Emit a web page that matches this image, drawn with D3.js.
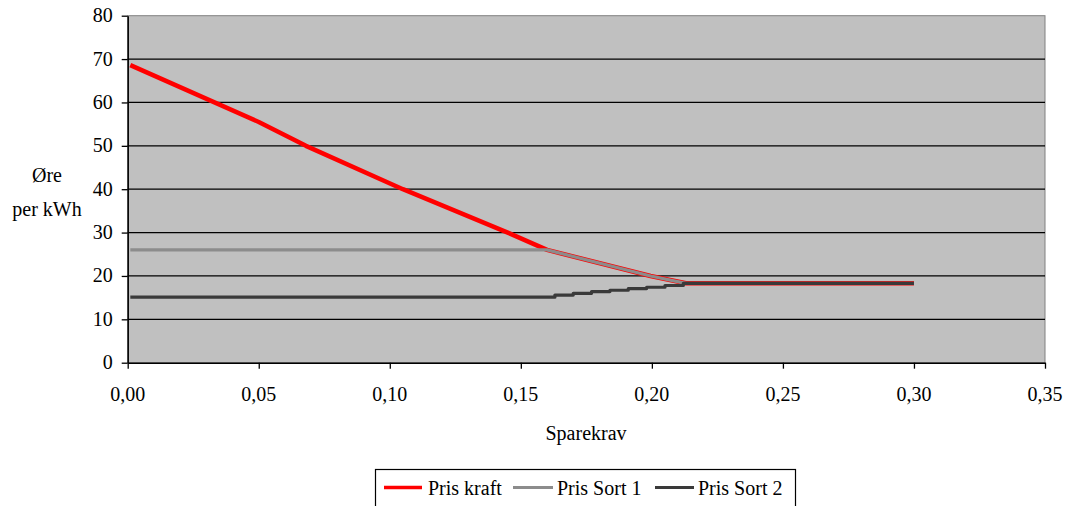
<!DOCTYPE html>
<html>
<head>
<meta charset="utf-8">
<script src="https://cdn.jsdelivr.net/npm/d3@7"></script>
</head>
<body style="margin:0">
<svg id="chart" width="1068" height="506" style="display:block"></svg>
<script>
// Sparekrav (x) and price in øre per kWh (y) for each series
const prisKraftX = [0.001, 0.050, 0.068, 0.105, 0.145, 0.160, 0.1995, 0.213, 0.300];
const prisKraftY = [68.6, 55.5, 50.0, 40.0, 30.0, 26.0, 20.0, 18.3, 18.3];

const prisSort1X = [0.001, 0.160, 0.1995, 0.213, 0.300];
const prisSort1Y = [26.0, 26.0, 20.0, 18.3, 18.3];

const prisSort2X = [0.001, 0.163, 0.170, 0.177, 0.184, 0.191, 0.198, 0.205, 0.212, 0.300];
const prisSort2Y = [15.1, 15.6, 16.0, 16.4, 16.7, 17.1, 17.4, 17.8, 18.3, 18.3];

const xTicks = [0, 0.05, 0.10, 0.15, 0.20, 0.25, 0.30, 0.35];
const yTicks = [0, 10, 20, 30, 40, 50, 60, 70, 80];

const seriesNames = ["Pris kraft", "Pris Sort 1", "Pris Sort 2"];
const seriesColors = ["#ff0000", "#8c8c8c", "#3a3a3a"];

const fontName = "Liberation Serif";
// text is set at 24px and scaled down to about 20px on screen
const textScale = 20 / 24;

const svg = d3.select("#chart");
const plotLeft = 127.7, plotRight = 1045, plotTop = 15.7, plotBottom = 362.7;

const x = d3.scaleLinear().domain([0, 0.35]).range([plotLeft, plotRight]);
const y = d3.scaleLinear().domain([0, 80]).range([plotBottom, plotTop]);

function label(xp, yp, txt, anchor) {
  return svg.append("text")
    .attr("x", 0).attr("y", 0)
    .attr("transform", `translate(${xp},${yp}) scale(${textScale})`)
    .attr("text-anchor", anchor || "middle")
    .attr("fill", "#000")
    .style("font-family", fontName).style("font-size", "24px")
    .text(txt);
}

// plot area
svg.append("rect")
  .attr("x", plotLeft).attr("y", plotTop)
  .attr("width", plotRight - plotLeft).attr("height", plotBottom - plotTop)
  .attr("fill", "#c0c0c0")
  .attr("stroke", "#808080").attr("stroke-width", 1);

// horizontal gridlines
svg.append("g").selectAll("line")
  .data(yTicks.filter(d => d > 0 && d < 80))
  .join("line")
  .attr("x1", plotLeft).attr("x2", plotRight)
  .attr("y1", d => y(d)).attr("y2", d => y(d))
  .attr("stroke", "#000").attr("stroke-width", 1.3);

// axes: lines and ticks from d3, labels drawn below with the serif font
const fmt = d3.format(".2f");
const xFormat = d => fmt(d).replace(".", ",");
const xAxis = d3.axisBottom(x).tickValues(xTicks).tickSize(6).tickSizeOuter(0).tickFormat("");
const yAxis = d3.axisLeft(y).tickValues(yTicks).tickSize(6).tickSizeOuter(0).tickFormat("");

const gx = svg.append("g").attr("transform", `translate(0,${plotBottom})`).call(xAxis);
gx.select(".domain").attr("stroke", "#000").attr("stroke-width", 1.5);
gx.selectAll(".tick line").attr("stroke", "#000").attr("stroke-width", 1.3);
gx.selectAll(".tick text").remove();

const gy = svg.append("g").attr("transform", `translate(${plotLeft},0)`).call(yAxis);
gy.select(".domain").attr("stroke", "#000").attr("stroke-width", 1.5);
gy.selectAll(".tick line").attr("stroke", "#000").attr("stroke-width", 1.3);
gy.selectAll(".tick text").remove();

xTicks.forEach(t => label(x(t), plotBottom + 38, xFormat(t), "middle"));
yTicks.forEach(t => label(plotLeft - 15, y(t) + 6.5, String(t), "end"));

// series lines
const series = [
  { xs: prisKraftX, ys: prisKraftY, curve: d3.curveLinear, width: 4.5 },
  { xs: prisSort1X, ys: prisSort1Y, curve: d3.curveLinear, width: 3.2 },
  { xs: prisSort2X, ys: prisSort2Y, curve: d3.curveStepAfter, width: 3.2 }
];

series.forEach((s, i) => {
  const pts = s.xs.map((v, j) => [v, s.ys[j]]);
  const line = d3.line().x(d => x(d[0])).y(d => y(d[1])).curve(s.curve);
  svg.append("path")
    .datum(pts)
    .attr("d", line)
    .attr("fill", "none")
    .attr("stroke", seriesColors[i])
    .attr("stroke-width", s.width)
    .attr("stroke-linejoin", "round");
});

// axis titles
label(47, 182, "Øre");
label(47, 216, "per kWh");
label(586, 440, "Sparekrav");

// legend
const legend = svg.append("g");
legend.append("rect")
  .attr("x", 375.5).attr("y", 469.5).attr("width", 420).attr("height", 45)
  .attr("fill", "#fff").attr("stroke", "#000").attr("stroke-width", 1.2);

const legendItems = [
  { x1: 384, x2: 422, tx: 428 },
  { x1: 513, x2: 553, tx: 557 },
  { x1: 655, x2: 694, tx: 698 }
];
legendItems.forEach((it, i) => {
  legend.append("line")
    .attr("x1", it.x1).attr("x2", it.x2).attr("y1", 487.5).attr("y2", 487.5)
    .attr("stroke", seriesColors[i]).attr("stroke-width", i === 0 ? 3.5 : 3);
  label(it.tx, 495, seriesNames[i], "start");
});
</script>
</body>
</html>
